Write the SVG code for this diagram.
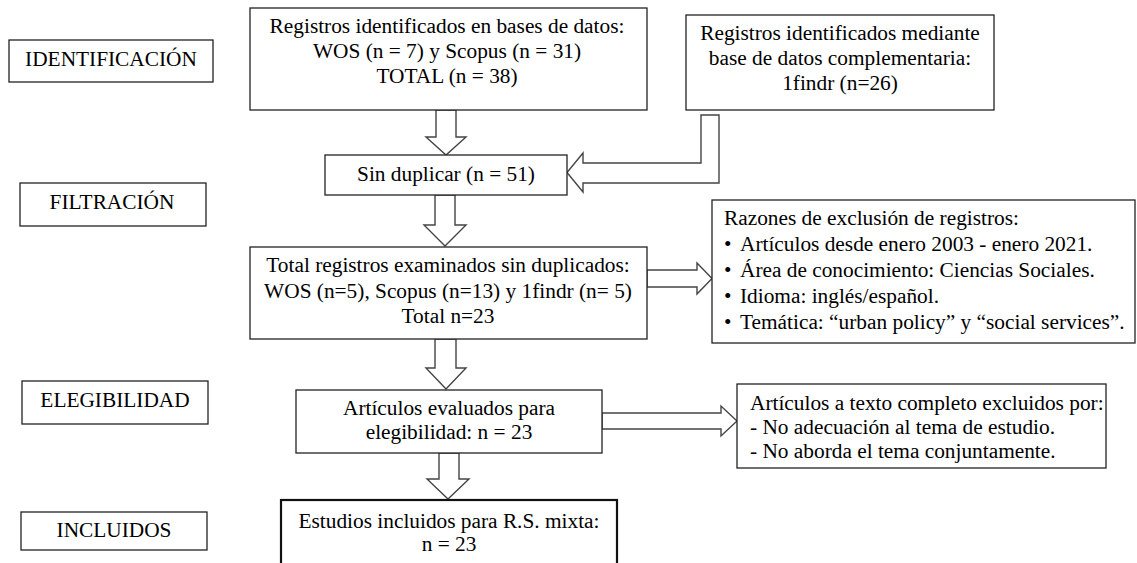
<svg xmlns="http://www.w3.org/2000/svg" width="1137" height="563" viewBox="0 0 1137 563">
<style>
.box{fill:#fff;stroke:#222;stroke-width:1.3}
.thick{fill:#fff;stroke:#111;stroke-width:2.2}
.arr{fill:#fff;stroke:#444;stroke-width:1.4;stroke-linejoin:miter}
text{font-family:"Liberation Serif","Times New Roman",serif;font-size:21.33px;fill:#000}
.c{text-anchor:middle}
</style>
<rect width="1137" height="563" fill="#fff"/>
<g id="connectors">
<polygon class="arr" points="436,110 456,110 456,137 466,137 446,155 426,137 436,137"/>
<polygon class="arr" points="701,115 719,115 719,183 583,183 583,192 567,172.5 583,153 583,163 701,163"/>
<polygon class="arr" points="435,195 455,195 455,225 466,225 445,246 424,225 435,225"/>
<polygon class="arr" points="647,270 697,270 697,263 712,278.5 697,294 697,287 647,287"/>
<polygon class="arr" points="435,339 456,339 456,368 466,368 446,389 426,368 435,368"/>
<polygon class="arr" points="602,413 721,413 721,406 737,421 721,436 721,429 602,429"/>
<polygon class="arr" points="439,453 459,453 459,479 469,479 448,499 427,479 439,479"/>
</g>
<g id="lbl-identificacion"><rect class="box" x="9" y="40" width="204" height="42"/><text class="c" x="111" y="66">IDENTIFICACIÓN</text></g>
<g id="lbl-filtracion"><rect class="box" x="20" y="183" width="186" height="43"/><text class="c" x="112" y="209">FILTRACIÓN</text></g>
<g id="lbl-elegibilidad"><rect class="box" x="22" y="381" width="186" height="43"/><text class="c" x="115" y="407">ELEGIBILIDAD</text></g>
<g id="lbl-incluidos"><rect class="box" x="21" y="512" width="186" height="38"/><text class="c" x="114" y="537">INCLUIDOS</text></g>
<g id="n-bases"><rect class="box" x="250" y="8" width="397" height="102"/>
<text class="c" x="447" y="33">Registros identificados en bases de datos:</text>
<text class="c" x="447" y="58">WOS (n = 7) y Scopus (n = 31)</text>
<text class="c" x="447" y="83">TOTAL (n = 38)</text></g>
<g id="n-complementaria"><rect class="box" x="686" y="15" width="308" height="95"/>
<text class="c" x="840" y="40">Registros identificados mediante</text>
<text class="c" x="840" y="65">base de datos complementaria:</text>
<text class="c" x="840" y="90">1findr (n=26)</text></g>
<g id="n-sinduplicar"><rect class="box" x="325" y="155" width="242" height="40"/>
<text class="c" x="446" y="181">Sin duplicar (n = 51)</text></g>
<g id="n-total"><rect class="box" x="250" y="247" width="397" height="92"/>
<text class="c" x="448" y="272">Total registros examinados sin duplicados:</text>
<text class="c" x="448" y="298">WOS (n=5), Scopus (n=13) y 1findr (n= 5)</text>
<text class="c" x="448" y="323">Total n=23</text></g>
<g id="n-razones"><rect class="box" x="712" y="200" width="423" height="143"/>
<text x="724" y="225">Razones de exclusión de registros:</text>
<text x="724" y="251">•</text><text x="740" y="251">Artículos desde enero 2003 - enero 2021.</text>
<text x="724" y="277">•</text><text x="740" y="277">Área de conocimiento: Ciencias Sociales.</text>
<text x="724" y="303">•</text><text x="740" y="303">Idioma: inglés/español.</text>
<text x="724" y="329">•</text><text x="740" y="329">Temática: “urban policy” y “social services”.</text></g>
<g id="n-evaluados"><rect class="box" x="296" y="390" width="306" height="63"/>
<text class="c" x="449" y="415">Artículos evaluados para</text>
<text class="c" x="449" y="439">elegibilidad: n = 23</text></g>
<g id="n-excluidos"><rect class="box" x="737" y="384" width="369" height="84"/>
<text x="750" y="410">Artículos a texto completo excluidos por:</text>
<text x="750" y="434">- No adecuación al tema de estudio.</text>
<text x="750" y="458">- No aborda el tema conjuntamente.</text></g>
<g id="n-incluidos"><rect class="thick" x="281" y="500" width="336" height="70"/>
<text class="c" x="449" y="528">Estudios incluidos para R.S. mixta:</text>
<text class="c" x="449" y="551">n = 23</text></g>
</svg>
